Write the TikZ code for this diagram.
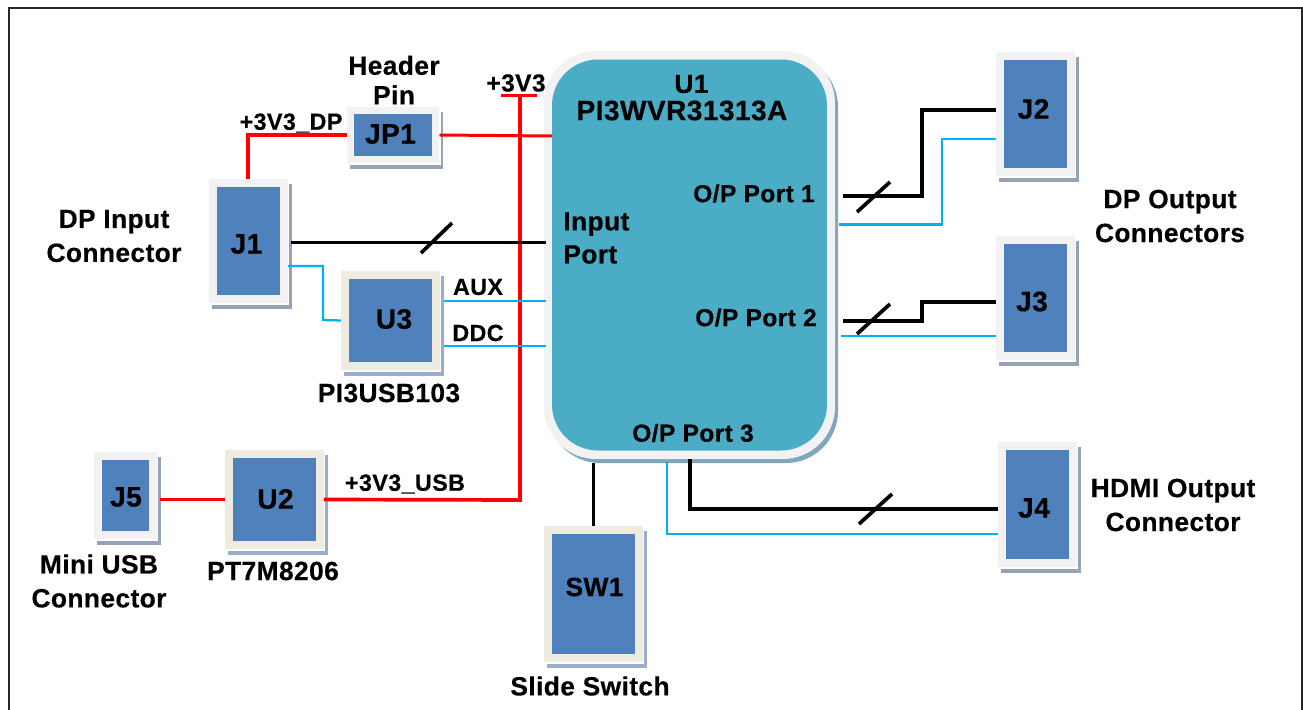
\documentclass[tikz,border=0pt]{standalone}
\usepackage{fontspec}
\setmainfont{Liberation Sans}[LetterSpace=1.5,BoldFeatures={FakeBold=0.4}]
\usetikzlibrary{calc,positioning}
\definecolor{boxblue}{HTML}{4F81BD}
\definecolor{chipteal}{HTML}{4BACC6}
\definecolor{rimgray}{HTML}{F2F2F2}
\definecolor{rimtan}{HTML}{EEECE1}
\definecolor{shaderimgray}{HTML}{95A3B8}
\definecolor{shaderimtan}{HTML}{98AECB}
\definecolor{netcyan}{HTML}{00B0F0}
\tikzset{
  lbl/.style={font=\bfseries\fontsize{15}{16}\selectfont, align=center, inner sep=0pt},
  lblsmall/.style={lbl, font=\bfseries\fontsize{13.3}{16}\selectfont},
  lblport/.style={lbl, font=\bfseries\fontsize{14}{16}\selectfont},
  lblpart/.style={lbl, font=\bfseries\fontsize{16}{16}\selectfont},
  part/.style={fill=boxblue, inner sep=0pt, line width=4.55pt},
  redbus/.style={red, line width=2.1pt},
  datbus/.style={black, line width=1.9pt},
  auxbus/.style={netcyan, line width=1.3pt},
  slash/.style={black, line width=2.1pt}
}
% rim, shadow and blue part; centre and size of the blue part in px
\newcommand{\partbox}[6][rimgray]{
  \fill[shade#1] (#3-#5/2-5,#4-#6/2-3) rectangle (#3+#5/2+11.5,#4+#6/2+13.5);
  \fill[white] (#3-#5/2-8,#4-#6/2-8) rectangle (#3+#5/2+9,#4+#6/2+9.5);
  \node[part, draw=#1, minimum width=(#5+8)*0.02cm, minimum height=(#6+8)*0.02cm] (#2) at (#3,#4) {};
}
\begin{document}
\begin{tikzpicture}[x=0.02cm,y=-0.02cm]
  \useasboundingbox (0,0) rectangle (1303,710);
  % frame
  \draw[black!85, line width=1.5pt] (9,712) -- (9,8) -- (1302,8) -- (1302,712);

  % U1
  \fill[shaderimgray!70!chipteal, rounded corners=52*0.02cm] (548,55) rectangle (838,463);
  \fill[rimgray, rounded corners=52*0.02cm] (544,51) rectangle (835,459);
  \node[fill=chipteal, rounded corners=46*0.02cm, minimum width=275*0.02cm, minimum height=391*0.02cm, inner sep=0pt, outer sep=0pt] (u1) at (689.5,255) {};

  % boxes
  \partbox{jp1}{393}{135}{77}{41}
  \partbox{j1}{248.5}{241}{63}{108}
  \partbox[rimtan]{u3}{390.5}{320.5}{83}{83}
  \partbox{j2}{1035.5}{114}{63}{108}
  \partbox{j3}{1035.5}{298}{63}{108}
  \partbox{j4}{1037.5}{504.5}{63}{109}
  \partbox[rimtan]{sw1}{593.5}{594}{83}{120}
  \partbox{j5}{125.5}{495.5}{47}{71}
  \partbox[rimtan]{u2}{274.5}{499.5}{83}{83}

  % power
  \coordinate (railtop) at (520,96);
  \draw[redbus, line width=1.7pt] (501,95.5) -- (537,95.5);
  \draw[redbus] (j1.north -| 248,0) -- (248,135) -- (jp1.west);
  \draw[redbus, line width=1.7pt] (jp1.east) -- (u1.west |- 0,136);
  \draw[redbus] (railtop) -- (520,500) -- (u2.east);
  \draw[redbus, shorten <=1.7pt] (j5.east |- u2.west) -- (u2.west);

  % data nets
  \draw[datbus, shorten <=1.7pt] (j1.east |- 0,242.5) -- (546,242.5);
  \draw[auxbus] (j1.east |- 0,266) -- (323,266) -- (323,320) -- (u3.west);
  \draw[auxbus, shorten <=2.3pt] (u3.east |- 0,301) -- (546,301);
  \draw[auxbus, shorten <=2.3pt] (u3.east |- 0,346) -- (546,346);
  \draw[datbus] (843,196) -- (922,196) -- (922,110) -- (j2.west |- 0,110);
  \draw[auxbus] (839,224.5) -- (942,224.5) -- (942,139) -- (j2.west |- 0,139);
  \draw[datbus] (843,321) -- (922,321) -- (922,302) -- (j3.west |- 0,302);
  \draw[auxbus] (841,336) -- (j3.west |- 0,336);
  \draw[black, line width=1.3pt] (593.5,463) -- (sw1.north -| 593.5,0);
  \draw[auxbus] (667,462) -- (667,534) -- (j4.west |- 0,534);
  \draw[datbus] (690,459) -- (690,509) -- (j4.west |- 0,509);

  % bus marks
  \draw[slash] (421,253) -- (452,223);
  \draw[slash] (857,212) -- (890,182);
  \draw[slash] (857,334) -- (890,304);
  \draw[slash] (859,524) -- (892,494);

  % part names
  \node[lblpart] (jp1txt) at (390.5,134) {JP1};
  \node[lblpart] (j1txt) at (246.5,244) {J1};
  \node[lblpart] (u3txt) at (394,319) {U3};
  \node[lblpart] (j2txt) at (1033.5,109) {J2};
  \node[lblpart] (j3txt) at (1032,301.5) {J3};
  \node[lblpart] (j4txt) at (1034,508) {J4};
  \node[lbl] (sw1txt) at (594.5,587) {SW1};
  \node[lblpart] (j5txt) at (126,497) {J5};
  \node[lblpart] (u2txt) at (275.5,499) {U2};
  \node[lbl] (u1txt) at (691.5,84) {U1};

  % labels
  \node[lbl] (hdr) at (394,80) {Header\\[0.8pt]Pin};
  \node[lblport] (rail) at (516,83) {+3V3};
  \node[lblsmall] (dp) at (291,123) {+3V3\_DP};
  \node[lbl] (dpin) at (114,236) {DP Input\\[3.3pt]Connector};
  \node[lblsmall] (aux) at (478,287) {AUX};
  \node[lblsmall] (ddc) at (478,333) {DDC};
  \node[lbl] (u3name) at (389,393) {PI3USB103};
  \node[lblsmall] (usb) at (405,484) {+3V3\_USB};
  \node[lbl] (mini) at (99,581) {Mini USB\\[3.3pt]Connector};
  \node[lbl] (u2name) at (273,571) {PT7M8206};
  \node[lbl] (swname) at (590,686) {Slide Switch};
  \node[lblpart] (u1name) at (682,110.5) {PI3WVR31313A};
  \node[lbl, align=left, anchor=west] (inport) at (563,238) {Input\\[2.8pt]Port};
  \node[lblport] (op1) at (754,193.5) {O/P Port 1};
  \node[lblport] (op2) at (756,317.5) {O/P Port 2};
  \node[lblport] (op3) at (693,433) {O/P Port 3};
  \node[lbl] (dpout) at (1170,216) {DP Output\\[3.3pt]Connectors};
  \node[lbl] (hdmi) at (1173,505) {HDMI Output\\[3.3pt]Connector};
\end{tikzpicture}
\end{document}
